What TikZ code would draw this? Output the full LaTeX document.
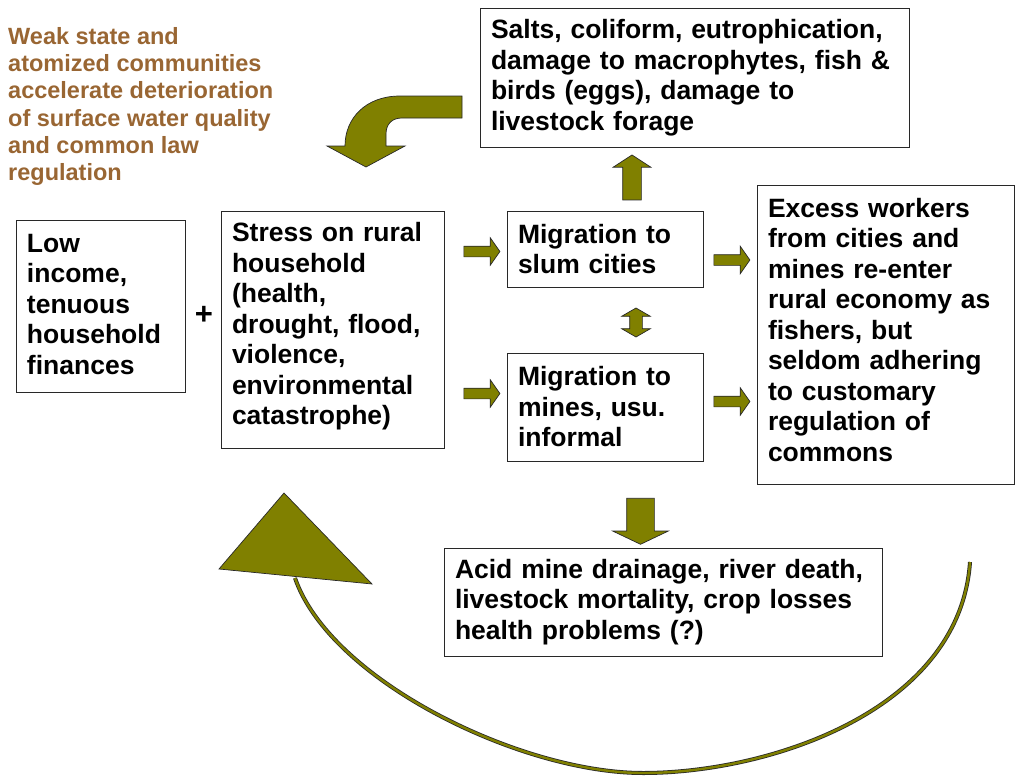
\documentclass[tikz,border=0pt]{standalone}
\usepackage{fontspec}
\setmainfont{Liberation Sans}
\usetikzlibrary{shapes.arrows}
\definecolor{arrowfill}{RGB}{128,128,0}
\definecolor{brownt}{RGB}{153,102,51}
\definecolor{edge}{RGB}{40,40,40}
\newcommand{\lowerfix}[1]{\rule[-#1]{0pt}{0pt}}
\begin{document}
\begin{tikzpicture}[x=1pt,y=-1pt,
  box/.style={draw=edge, line width=0.9pt, inner xsep=11pt, inner ysep=0pt, align=left,
    font=\bfseries\fontsize{26.5}{30.5}\selectfont},
  blockarrow/.style={single arrow, draw=edge, fill=arrowfill, line width=0.7pt},
  hsmall/.style={blockarrow, inner xsep=0pt, inner ysep=5pt, minimum height=36pt, minimum width=27pt,
    single arrow head extend=8.5pt, single arrow tip angle=110},
]
\useasboundingbox (0,0) rectangle (1015,776);

% text boxes
\node[box, text width=147pt, minimum height=172pt] (low) at (100.5,306)
  {Low\\income,\\tenuous\\household\\finances\lowerfix{4pt}};
\node[box, text width=201pt, minimum height=237pt] (stress) at (332.5,329.5)
  {Stress on rural\\household\\(health,\\drought, flood,\\violence,\\environmental\\catastrophe)\lowerfix{11.5pt}};
\node[box, text width=407pt, minimum height=139pt] (salts) at (694.5,77.5)
  {Salts, coliform, eutrophication,\\damage to macrophytes, fish \&\\birds (eggs), damage to\\livestock forage};
\node[box, text width=174pt, minimum height=76pt] (slum) at (605,249)
  {Migration to\\slum cities};
\node[box, text width=174pt, minimum height=108pt] (mines) at (605,407)
  {Migration to\\mines, usu.\\informal};
\node[box, text width=235pt, minimum height=299pt] (excess) at (885.5,334.5)
  {Excess workers\\from cities and\\mines re-enter\\rural economy as\\fishers, but\\seldom adhering\\to customary\\regulation of\\commons\lowerfix{10pt}};
\node[box, text width=416pt, minimum height=108pt] (acid) at (663,602)
  {Acid mine drainage, river death,\\livestock mortality, crop losses\\health problems (?)};

\node[anchor=north west, inner sep=0pt, align=left, text=brownt,
  font=\bfseries\fontsize{23.5}{27.3}\selectfont] (weak) at (8,27)
  {Weak state and\\atomized communities\\accelerate deterioration\\of surface water quality\\and common law\\regulation};

\node[font=\bfseries\fontsize{31}{34}\selectfont, inner sep=0pt] (plus) at (204,315) {+};

% small block arrows
\node[hsmall] (ra1) at (480,251.5) {};
\node[hsmall] (ra2) at (730,260) {};
\node[hsmall] (ra3) at (480,393.5) {};
\node[hsmall] (ra4) at (730,401.5) {};
\node[blockarrow, rotate=90, inner xsep=0pt, inner ysep=9pt, minimum height=45pt, minimum width=37pt,
  single arrow head extend=9.5pt, single arrow tip angle=114] (up) at (632,180.5) {};
\node[blockarrow, rotate=-90, inner xsep=0pt, inner ysep=13.5pt, minimum height=46pt, minimum width=55pt,
  single arrow head extend=14pt, single arrow tip angle=129] (down) at (640.5,518) {};
\node[double arrow, draw=edge, fill=arrowfill, line width=0.7pt, rotate=90, inner xsep=0pt, inner ysep=6pt,
  minimum height=29pt, minimum width=28pt, double arrow head extend=8pt, double arrow tip angle=120] (dbl) at (636,322.5) {};

% bent arrow top left
\filldraw[fill=arrowfill, draw=edge, line width=0.7pt]
  (462,96) -- (400,96) .. controls (366,96) and (345,118) .. (345,146)
  -- (327,146) -- (366,167) -- (405,146) -- (386,146) -- (386,134)
  .. controls (386,124) and (392,118) .. (402,118) -- (462,118) -- cycle;

% big return arc
\coordinate (arcA) at (970,562);
\coordinate (arcB) at (643,773);
\coordinate (arcC) at (295,578);
\draw[edge, line width=4pt] (arcA) .. controls (960,710) and (770,773) .. (arcB)
  .. controls (520,773) and (330,680) .. (arcC);
\draw[arrowfill, line width=2.4pt] (arcA) .. controls (960,710) and (770,773) .. (arcB)
  .. controls (520,773) and (330,680) .. (arcC);
\filldraw[fill=arrowfill, draw=edge, line width=0.7pt] (284,493) -- (219,569) -- (372,584) -- cycle;
\end{tikzpicture}
\end{document}
